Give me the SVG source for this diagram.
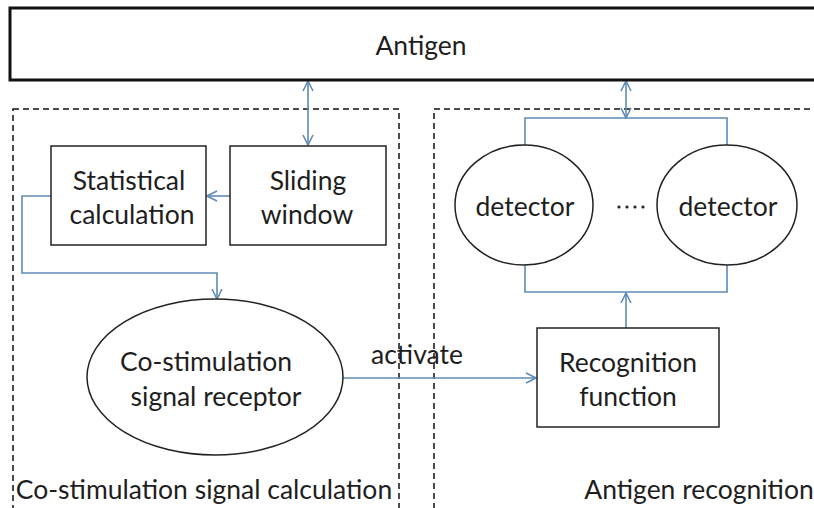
<svg xmlns="http://www.w3.org/2000/svg" width="814" height="508" viewBox="0 0 814 508">
  <style>
    .lbl { font-family: Lato, "Open Sans", "Liberation Sans", sans-serif; font-size: 26.5px; fill: #1e1e1e; text-anchor: middle; dominant-baseline: central; }
    .box { fill: #fff; stroke: #222; stroke-width: 1.5; }
    .group { fill: none; stroke: #111; stroke-width: 1.5; stroke-dasharray: 6 4; }
    .wire { fill: none; stroke: #5f8bb5; stroke-width: 1.6; }
    .dots { fill: #222; }
  </style>
  <defs>
    <marker id="arr" viewBox="0 0 12 12" refX="11" refY="6" markerWidth="12" markerHeight="12" markerUnits="userSpaceOnUse" orient="auto-start-reverse">
      <path d="M1,1 L11,6 L1,11" fill="none" stroke="#5f8bb5" stroke-width="1.6"/>
    </marker>
  </defs>
  <rect width="814" height="508" fill="#fff"/>

  <!-- dashed groupings -->
  <g id="group-costim">
    <rect class="group" x="13" y="109" width="386" height="420"/>
    <text class="lbl" x="204" y="489">Co-stimulation signal calculation</text>
  </g>
  <g id="group-recog">
    <rect class="group" x="434" y="109" width="420" height="420"/>
    <text class="lbl" x="699" y="489">Antigen recognition</text>
  </g>

  <!-- connectors -->
  <g id="connectors">
    <line class="wire" x1="308" y1="81" x2="308" y2="145" marker-start="url(#arr)" marker-end="url(#arr)"/>
    <line class="wire" x1="626" y1="81" x2="626" y2="118" marker-start="url(#arr)" marker-end="url(#arr)"/>
    <line class="wire" x1="230" y1="196" x2="207" y2="196" marker-end="url(#arr)"/>
    <polyline class="wire" points="51,196 22,196 22,273 217,273 217,299" marker-end="url(#arr)"/>
    <polyline class="wire" points="525,145 525,118 727,118 727,145"/>
    <polyline class="wire" points="525,265 525,292 727,292 727,265"/>
    <line class="wire" x1="626" y1="328" x2="626" y2="293" marker-end="url(#arr)"/>
    <line class="wire" x1="343" y1="378" x2="536" y2="378" marker-end="url(#arr)"/>
    <text class="lbl" x="417" y="354">activate</text>
  </g>

  <g id="antigen">
    <rect x="10" y="8" width="820" height="72" fill="#fff" stroke="#111" stroke-width="3"/>
    <text class="lbl" x="421" y="45">Antigen</text>
  </g>

  <g id="statistical">
    <rect class="box" x="51" y="146" width="155" height="99"/>
    <text class="lbl" x="129" y="180">Statistical</text>
    <text class="lbl" x="132" y="214">calculation</text>
  </g>

  <g id="sliding">
    <rect class="box" x="230" y="146" width="156" height="99"/>
    <text class="lbl" x="308" y="180">Sliding</text>
    <text class="lbl" x="307" y="214">window</text>
  </g>

  <g id="receptor">
    <ellipse class="box" cx="215" cy="377" rx="128" ry="78"/>
    <text class="lbl" x="206" y="361">Co-stimulation</text>
    <text class="lbl" x="216" y="396">signal receptor</text>
  </g>

  <g id="detector-1">
    <ellipse class="box" cx="524" cy="205" rx="69" ry="60"/>
    <text class="lbl" x="525" y="206">detector</text>
  </g>

  <g id="ellipsis">
    <circle class="dots" cx="619" cy="207" r="1.6"/>
    <circle class="dots" cx="627" cy="207" r="1.6"/>
    <circle class="dots" cx="635" cy="207" r="1.6"/>
    <circle class="dots" cx="643" cy="207" r="1.6"/>
  </g>

  <g id="detector-n">
    <ellipse class="box" cx="727" cy="205" rx="70" ry="60"/>
    <text class="lbl" x="728" y="206">detector</text>
  </g>

  <g id="recognition">
    <rect class="box" x="537" y="328" width="182" height="99"/>
    <text class="lbl" x="628" y="362">Recognition</text>
    <text class="lbl" x="628" y="396">function</text>
  </g>
</svg>
